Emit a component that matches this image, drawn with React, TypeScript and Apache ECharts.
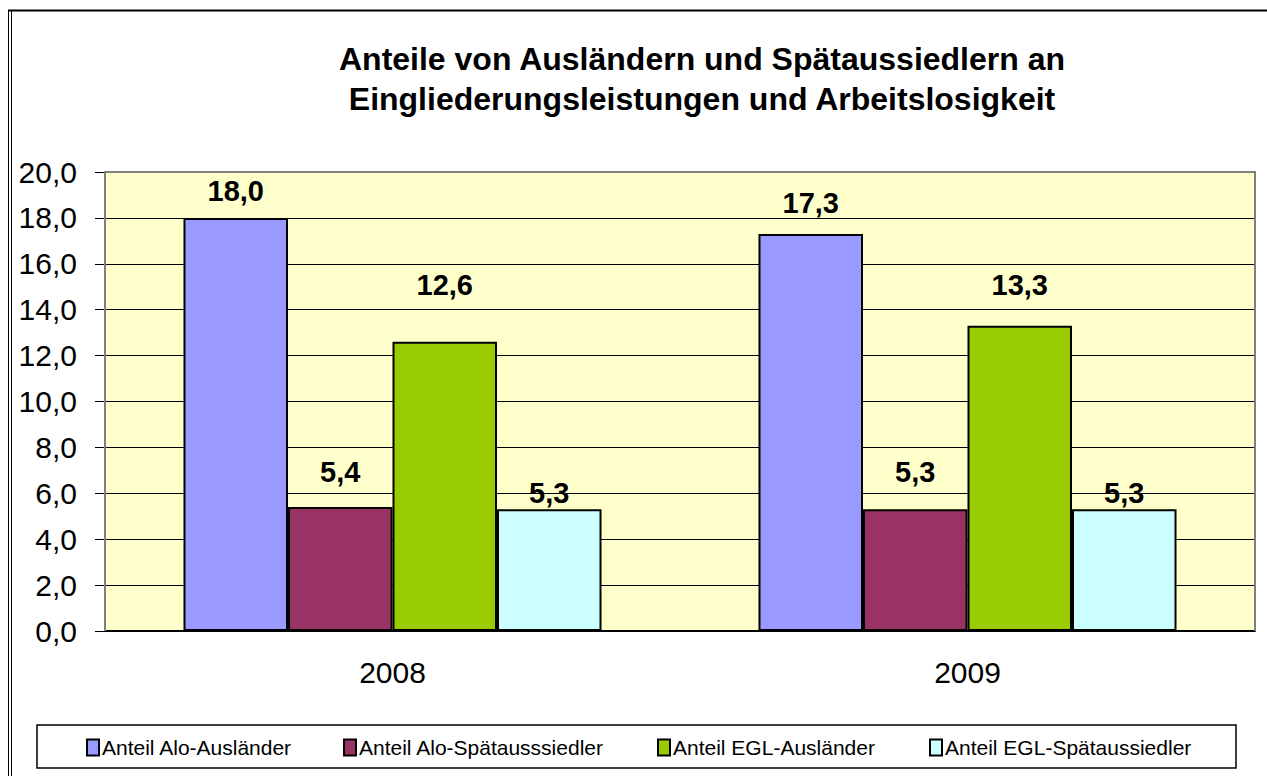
import React, { useEffect, useRef } from "react";
import * as echarts from "echarts";

const titleLines = [
  "Anteile von Ausländern und Spätaussiedlern an",
  "Eingliederungsleistungen und Arbeitslosigkeit",
];
const categories = ["2008", "2009"];
const seriesNames = [
  "Anteil Alo-Ausländer",
  "Anteil Alo-Spätausssiedler",
  "Anteil EGL-Ausländer",
  "Anteil EGL-Spätaussiedler",
];
const aloAuslaender = [18.0, 17.3];
const aloSpaetaussiedler = [5.4, 5.3];
const eglAuslaender = [12.6, 13.3];
const eglSpaetaussiedler = [5.3, 5.3];
const seriesValues = [aloAuslaender, aloSpaetaussiedler, eglAuslaender, eglSpaetaussiedler];
const colors = ["#9999FF", "#993366", "#99CC00", "#CCFFFF"];
// label lift above bar tops (styling, per series per category)
const labelLift = [
  [12, 16],
  [21, 23],
  [42, 26],
  [2, 2],
];
// legend item left edges (styling)
const legendLeft = [86, 343, 657, 929];

const FONT = "'Liberation Sans', Arial, sans-serif";
const fmt = (v: number) => v.toFixed(1).replace(".", ",");

export default function App() {
  const ref = useRef<HTMLDivElement>(null);
  useEffect(() => {
    if (!ref.current) return;
    const chart = echarts.init(ref.current, undefined, { renderer: "svg" });
    const series = seriesNames.map((name, si) => ({
      name,
      type: "bar",
      barGap: "0%",
      barCategoryGap: "27.3%",
      itemStyle: { color: colors[si], borderColor: "#000", borderWidth: 2 },
      label: {
        show: true,
        position: "top",
        fontFamily: FONT,
        fontWeight: "bold",
        fontSize: 29,
        color: "#000",
        formatter: (p: any) => fmt(p.value),
      },
      data: seriesValues[si].map((v, ci) => ({
        value: v,
        label: { distance: labelLift[si][ci] },
      })),
    }));
    const legends = seriesNames.map((name, i) => ({
      left: legendLeft[i],
      top: 737,
      padding: 0,
      itemGap: 0,
      itemWidth: 12,
      itemHeight: 16,
      icon: "rect",
      data: [name],
      textStyle: { fontFamily: FONT, fontSize: 21, color: "#000", padding: [0, 0, 0, -2] },
    }));
    chart.setOption({
      animation: false,
      backgroundColor: "#fff",
      title: {
        text: titleLines.join("\n"),
        left: 697,
        top: 34,
        textAlign: "center",
        textStyle: {
          fontFamily: FONT,
          fontWeight: "bold",
          fontSize: 32,
          lineHeight: 40,
          color: "#000",
        },
      },
      grid: {
        left: 105,
        right: 12,
        top: 172,
        bottom: 145,
        show: true,
        backgroundColor: "#FFFFCC",
        borderWidth: 0,
      },
      legend: legends,
      xAxis: {
        type: "category",
        data: categories,
        axisLine: { lineStyle: { color: "#000", width: 2 } },
        axisTick: { length: 10, lineStyle: { color: "#000", width: 1 } },
        axisLabel: { fontFamily: FONT, fontSize: 30, color: "#000", margin: 26 },
      },
      yAxis: {
        type: "value",
        min: 0,
        max: 20,
        interval: 2,
        axisLine: { show: true, lineStyle: { color: "#808080", width: 2 } },
        axisTick: { show: true, length: 10, lineStyle: { color: "#000", width: 1 } },
        axisLabel: {
          fontFamily: FONT,
          fontSize: 30,
          color: "#000",
          margin: 28,
          formatter: (v: number) => fmt(v),
        },
        splitLine: { lineStyle: { color: "#000", width: 1 } },
      },
      graphic: [
        {
          type: "polyline",
          z: 100,
          shape: { points: [[105, 631], [105, 172], [1255, 172], [1255, 631]] },
          style: { stroke: "#808080", lineWidth: 2, fill: "none" },
        },
        {
          type: "rect",
          z: 0,
          shape: { x: 37, y: 725, width: 1199, height: 43 },
          style: { stroke: "#000", lineWidth: 1.5, fill: "#fff" },
        },
        {
          type: "line",
          shape: { x1: 8, y1: 10.5, x2: 1267, y2: 10.5 },
          style: { stroke: "#000", lineWidth: 2 },
        },
        {
          type: "line",
          shape: { x1: 8.5, y1: 10, x2: 8.5, y2: 776 },
          style: { stroke: "#000", lineWidth: 1 },
        },
        {
          type: "line",
          shape: { x1: 11.5, y1: 11, x2: 11.5, y2: 776 },
          style: { stroke: "#000", lineWidth: 1 },
        },
      ],
      series,
    });
    return () => chart.dispose();
  }, []);
  return (
    <div
      ref={ref}
      style={{ position: "fixed", left: 0, top: 0, width: 1267, height: 776 }}
    />
  );
}
